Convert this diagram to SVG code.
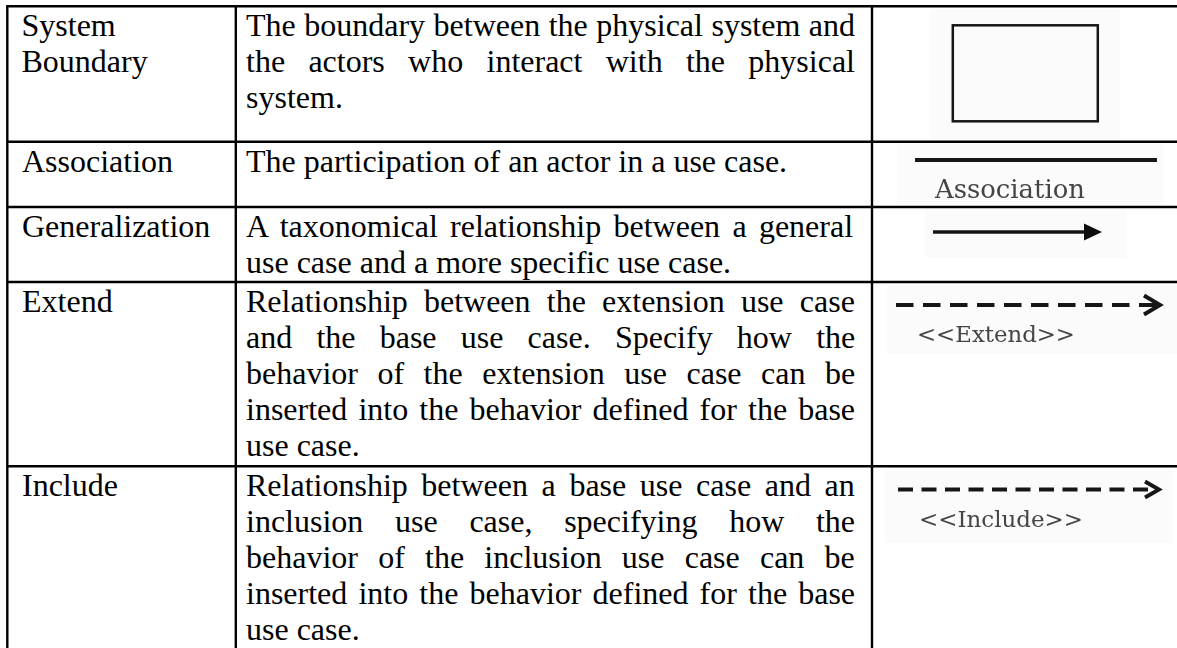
<svg xmlns="http://www.w3.org/2000/svg" width="1177" height="648" viewBox="0 0 1177 648">
  <style>
    .cell { font-family: "Liberation Serif", "Times New Roman", serif; font-size: 32px; fill: #000; }
    .grid line { stroke: #000; stroke-width: 2.4; }
    .pad { fill: #fbfbfb; }
    .sym { stroke: #161616; fill: none; }
    .tag { font-family: "DejaVu Serif", serif; fill: #444; }
  </style>
  <defs>
    <filter id="soft" x="-5%" y="-20%" width="110%" height="140%">
      <feGaussianBlur stdDeviation="0.55"/>
    </filter>
  </defs>
  <rect width="1177" height="648" fill="#fff"/>

  <!-- table rules -->
  <g id="grid" class="grid">
    <line x1="7.3" y1="6.2" x2="1177" y2="6.2"/>
    <line x1="7.3" y1="141.8" x2="1177" y2="141.8"/>
    <line x1="7.3" y1="207" x2="1177" y2="207"/>
    <line x1="7.3" y1="282" x2="1177" y2="282"/>
    <line x1="7.3" y1="466.3" x2="1177" y2="466.3"/>
    <line x1="7.3" y1="5" x2="7.3" y2="648"/>
    <line x1="235.8" y1="5" x2="235.8" y2="648"/>
    <line x1="872" y1="5" x2="872" y2="648"/>
  </g>

  <!-- row: system boundary -->
  <g id="row-system-boundary">
    <text class="cell" x="21.5" y="35.5">System</text>
    <text class="cell" x="21.5" y="71.5">Boundary</text>
    <text class="cell" x="246" y="35.5" word-spacing="0.5">The boundary between the physical system and</text>
    <text class="cell" x="246" y="71.5" word-spacing="15.3">the actors who interact with the physical</text>
    <text class="cell" x="246" y="107.5">system.</text>
    <g filter="url(#soft)">
      <rect class="pad" x="930" y="9" width="190" height="131"/>
      <rect class="sym" x="952.8" y="25.3" width="145" height="96" stroke="#2a2a2a" stroke-width="2.5"/>
    </g>
  </g>

  <!-- row: association -->
  <g id="row-association">
    <text class="cell" x="22" y="171.8">Association</text>
    <text class="cell" x="246" y="171.8">The participation of an actor in a use case.</text>
    <g filter="url(#soft)">
      <rect class="pad" x="897" y="144" width="266" height="59"/>
      <line class="sym" x1="915" y1="160" x2="1157" y2="160" stroke-width="4"/>
      <text class="tag" x="935" y="198.3" font-size="25.5" textLength="150" lengthAdjust="spacingAndGlyphs">Association</text>
    </g>
  </g>

  <!-- row: generalization -->
  <g id="row-generalization">
    <text class="cell" x="22" y="237">Generalization</text>
    <text class="cell" x="246" y="237" word-spacing="4.3">A taxonomical relationship between a general</text>
    <text class="cell" x="246" y="273">use case and a more specific use case.</text>
    <g filter="url(#soft)">
      <rect class="pad" x="925" y="209" width="202" height="48"/>
      <line class="sym" x1="933" y1="232" x2="1088" y2="232" stroke-width="3.6"/>
      <polygon points="1084,223.5 1102,232 1084,240.5" fill="#111"/>
    </g>
  </g>

  <!-- row: extend -->
  <g id="row-extend">
    <text class="cell" x="22" y="312">Extend</text>
    <text class="cell" x="246" y="312" word-spacing="8.2">Relationship between the extension use case</text>
    <text class="cell" x="246" y="348" word-spacing="16.2">and the base use case. Specify how the</text>
    <text class="cell" x="246" y="384" word-spacing="11.5">behavior of the extension use case can be</text>
    <text class="cell" x="246" y="420" word-spacing="3.1">inserted into the behavior defined for the base</text>
    <text class="cell" x="246" y="456">use case.</text>
    <g filter="url(#soft)">
      <rect class="pad" x="887" y="285" width="290" height="68"/>
      <line class="sym" x1="896" y1="305" x2="1156" y2="305" stroke-width="4" stroke-dasharray="17.5 9.5"/>
      <polyline class="sym" points="1144,295.5 1160,305 1144,314.5" stroke-width="4"/>
      <text class="tag" x="917" y="342" font-size="23" textLength="158" lengthAdjust="spacingAndGlyphs">&lt;&lt;Extend&gt;&gt;</text>
    </g>
  </g>

  <!-- row: include -->
  <g id="row-include">
    <text class="cell" x="22" y="496.3">Include</text>
    <text class="cell" x="246" y="496.3" word-spacing="5.6">Relationship between a base use case and an</text>
    <text class="cell" x="246" y="532.3" word-spacing="23.7">inclusion use case, specifying how the</text>
    <text class="cell" x="246" y="568.3" word-spacing="12.2">behavior of the inclusion use case can be</text>
    <text class="cell" x="246" y="604.3" word-spacing="3.1">inserted into the behavior defined for the base</text>
    <text class="cell" x="246" y="640.3">use case.</text>
    <g filter="url(#soft)">
      <rect class="pad" x="885" y="470" width="288" height="73"/>
      <line class="sym" x1="898" y1="489.5" x2="1155" y2="489.5" stroke-width="3.8" stroke-dasharray="15 8.5"/>
      <polyline class="sym" points="1145,481.5 1159,489.5 1145,497.5" stroke-width="3.8"/>
      <text class="tag" x="919" y="527" font-size="23" textLength="164" lengthAdjust="spacingAndGlyphs">&lt;&lt;Include&gt;&gt;</text>
    </g>
  </g>
</svg>
